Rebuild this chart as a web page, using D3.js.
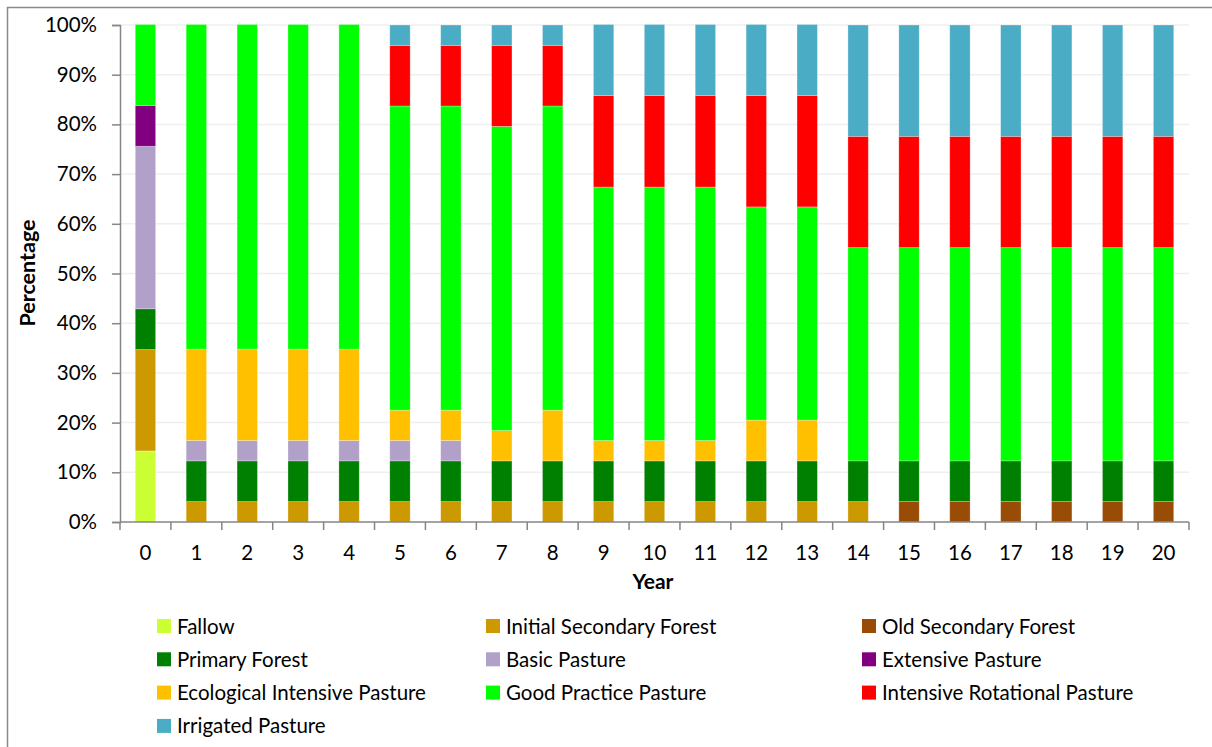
<!DOCTYPE html>
<html>
<head>
<meta charset="utf-8">
<script src="https://cdn.jsdelivr.net/npm/d3@7"></script>
<style>
  body { margin: 0; background: #fff; }
  svg text { font-family: Lato, "Open Sans", sans-serif; fill: #000; }
</style>
</head>
<body>
<div id="chart"></div>
<script>
// land use share per year (percent)
var years = ["0","1","2","3","4","5","6","7","8","9","10","11","12","13","14","15","16","17","18","19","20"];
var fallow        = [14.3, 0, 0, 0, 0, 0, 0, 0, 0, 0, 0, 0, 0, 0, 0, 0, 0, 0, 0, 0, 0];
var initialSecFor = [20.4, 4.1, 4.1, 4.1, 4.1, 4.1, 4.1, 4.1, 4.1, 4.1, 4.1, 4.1, 4.1, 4.1, 4.1, 0, 0, 0, 0, 0, 0];
var oldSecFor     = [0, 0, 0, 0, 0, 0, 0, 0, 0, 0, 0, 0, 0, 0, 0, 4.1, 4.1, 4.1, 4.1, 4.1, 4.1];
var primaryFor    = [8.2, 8.2, 8.2, 8.2, 8.2, 8.2, 8.2, 8.2, 8.2, 8.2, 8.2, 8.2, 8.2, 8.2, 8.2, 8.2, 8.2, 8.2, 8.2, 8.2, 8.2];
var basicPast     = [32.7, 4.1, 4.1, 4.1, 4.1, 4.1, 4.1, 0, 0, 0, 0, 0, 0, 0, 0, 0, 0, 0, 0, 0, 0];
var extensivePast = [8.2, 0, 0, 0, 0, 0, 0, 0, 0, 0, 0, 0, 0, 0, 0, 0, 0, 0, 0, 0, 0];
var ecoIntPast    = [0, 18.4, 18.4, 18.4, 18.4, 6.1, 6.1, 6.1, 10.2, 4.1, 4.1, 4.1, 8.2, 8.2, 0, 0, 0, 0, 0, 0, 0];
var goodPractice  = [16.3, 65.3, 65.3, 65.3, 65.3, 61.2, 61.2, 61.2, 61.2, 51.0, 51.0, 51.0, 42.9, 42.9, 42.9, 42.9, 42.9, 42.9, 42.9, 42.9, 42.9];
var intRotPast    = [0, 0, 0, 0, 0, 12.2, 12.2, 16.3, 12.2, 18.4, 18.4, 18.4, 22.4, 22.4, 22.4, 22.4, 22.4, 22.4, 22.4, 22.4, 22.4];
var irrigated     = [0, 0, 0, 0, 0, 4.1, 4.1, 4.1, 4.1, 14.3, 14.3, 14.3, 14.3, 14.3, 22.4, 22.4, 22.4, 22.4, 22.4, 22.4, 22.4];

var seriesNames = ["Fallow", "Initial Secondary Forest", "Old Secondary Forest", "Primary Forest",
  "Basic Pasture", "Extensive Pasture", "Ecological Intensive Pasture", "Good Practice Pasture",
  "Intensive Rotational Pasture", "Irrigated Pasture"];
var seriesValues = [fallow, initialSecFor, oldSecFor, primaryFor, basicPast, extensivePast,
  ecoIntPast, goodPractice, intRotPast, irrigated];
var yTicks = [0, 10, 20, 30, 40, 50, 60, 70, 80, 90, 100];

var colors = ["#ccff33", "#cc9900", "#994c06", "#008000", "#b1a0c7", "#800080",
  "#ffc000", "#00ff00", "#ff0000", "#4bacc6"];

var width = 1212, height = 747;
var margin = { left: 120, right: 1189, top: 25, bottom: 522 };
var fontSize = "20.5px";

var svg = d3.select("#chart").append("svg")
  .attr("width", width)
  .attr("height", height);

// chart frame (right/bottom edge sit outside the picture)
svg.append("rect")
  .attr("x", 7.5).attr("y", 7.5)
  .attr("width", 1240).attr("height", 780)
  .attr("fill", "#fff")
  .attr("stroke", "#898989")
  .attr("stroke-width", 1.5);

var table = years.map(function (yr, i) {
  var row = { year: yr };
  seriesNames.forEach(function (n, j) { row[n] = seriesValues[j][i]; });
  return row;
});

var x = d3.scaleBand().domain(years).range([margin.left, margin.right]).paddingInner(0.6).paddingOuter(0.3);
var y = d3.scaleLinear().domain([0, 100]).range([margin.bottom, margin.top]);
var color = d3.scaleOrdinal().domain(seriesNames).range(colors);

// gridlines
svg.append("g").selectAll("line")
  .data(yTicks.slice(1))
  .enter().append("line")
  .attr("x1", margin.left).attr("x2", margin.right)
  .attr("y1", function (d) { return y(d); })
  .attr("y2", function (d) { return y(d); })
  .attr("stroke", "#efefef")
  .attr("stroke-width", 1.5);

var stack = d3.stack().keys(seriesNames);
var layers = stack(table);

svg.append("g").selectAll("g")
  .data(layers)
  .enter().append("g")
  .attr("fill", function (d) { return color(d.key); })
  .selectAll("rect")
  .data(function (d) { return d.filter(function (p) { return p[1] - p[0] > 0; }); })
  .enter().append("rect")
  .attr("x", function (d) { return x(d.data.year); })
  .attr("width", x.bandwidth())
  .attr("y", function (d) { return y(d[1]); })
  .attr("height", function (d) { return y(d[0]) - y(d[1]); })
  .attr("stroke", "rgba(255,255,255,0.35)")
  .attr("stroke-width", 0.75);

// y axis
var yAxis = d3.axisLeft(y)
  .tickValues(yTicks)
  .tickFormat(function (d) { return d + "%"; })
  .tickSize(8)
  .tickPadding(15);
var gy = svg.append("g")
  .attr("transform", "translate(" + margin.left + ",0)")
  .call(yAxis);
gy.select(".domain").attr("stroke", "#868686").attr("stroke-width", 1.5);
gy.selectAll(".tick line").attr("stroke", "#868686").attr("stroke-width", 1.5);
gy.selectAll("text").style("font-size", fontSize);

// x axis: ticks sit between categories
var gx = svg.append("g")
  .attr("transform", "translate(0," + margin.bottom + ")");
gx.append("line")
  .attr("x1", margin.left).attr("x2", margin.right)
  .attr("stroke", "#868686").attr("stroke-width", 1.5);
var bounds = d3.range(years.length + 1).map(function (i) { return margin.left + i * (margin.right - margin.left) / years.length; });
gx.selectAll(".tk")
  .data(bounds)
  .enter().append("line")
  .attr("class", "tk")
  .attr("x1", function (d) { return d; }).attr("x2", function (d) { return d; })
  .attr("y1", 0).attr("y2", 8)
  .attr("stroke", "#868686").attr("stroke-width", 1.5);
gx.selectAll(".lbl")
  .data(years)
  .enter().append("text")
  .attr("class", "lbl")
  .attr("x", function (d) { return x(d) + x.bandwidth() / 2; })
  .attr("y", 38)
  .attr("text-anchor", "middle")
  .style("font-size", fontSize)
  .text(function (d) { return d; });

// axis titles
svg.append("text")
  .attr("x", 653).attr("y", 589)
  .attr("text-anchor", "middle")
  .style("font-size", "21px")
  .style("font-weight", "bold")
  .text("Year");
svg.append("text")
  .attr("transform", "translate(35,273) rotate(-90)")
  .attr("text-anchor", "middle")
  .style("font-size", "21.5px")
  .style("font-weight", "bold")
  .text("Percentage");

// legend, three columns filled row by row
var legendX = [157, 486, 862];
var legendY0 = 626, legendStep = 33.3;
var legend = svg.append("g").selectAll("g")
  .data(seriesNames)
  .enter().append("g")
  .attr("transform", function (d, i) {
    return "translate(" + legendX[i % 3] + "," + (legendY0 + Math.floor(i / 3) * legendStep) + ")";
  });
legend.append("rect")
  .attr("x", 0).attr("y", -7)
  .attr("width", 14).attr("height", 14)
  .attr("fill", function (d) { return color(d); });
legend.append("text")
  .attr("x", 20).attr("y", 7.5)
  .style("font-size", fontSize)
  .text(function (d) { return d; });
</script>
</body>
</html>
